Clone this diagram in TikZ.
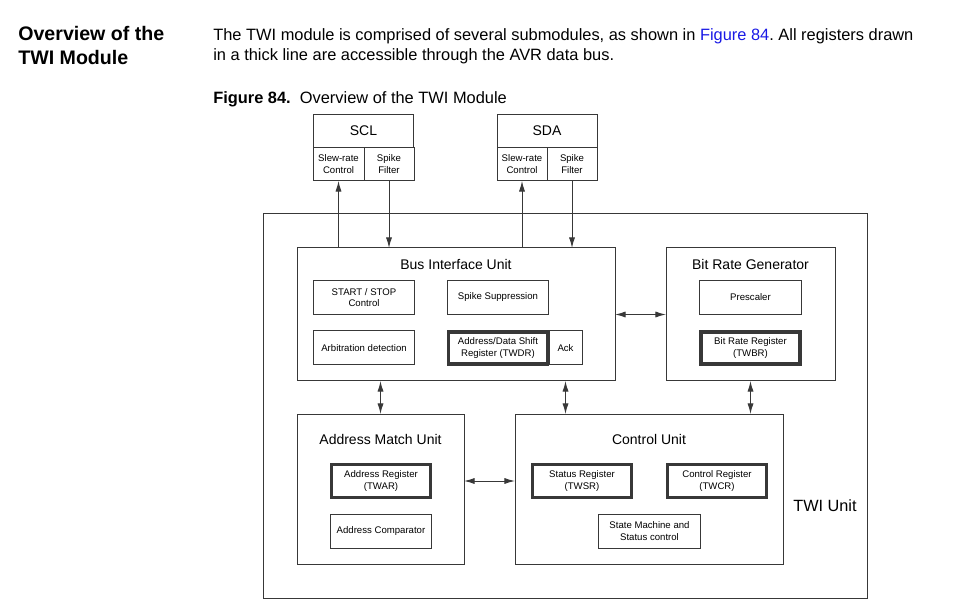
\documentclass[tikz,border=0pt]{standalone}
\usepackage{fontspec}
\setmainfont{Liberation Sans}
\usepackage{xcolor}
\definecolor{linkblue}{rgb}{0.1,0.1,0.9}
\definecolor{line}{gray}{0.22}
\usetikzlibrary{positioning}
\usetikzlibrary{arrows.meta}
\usetikzlibrary{calc}
\frenchspacing

\begin{document}
\begin{tikzpicture}[x=0.75pt,y=-0.75pt,>={Latex[length=8pt,width=4.6pt]},
	every node/.style={inner sep=1,outer sep=0},
	box/.style={draw=line,line width=0.75pt,minimum width=76pt,minimum height=25.5pt,align=center,font=\fontsize{7.2}{8.6}\selectfont},
	reg/.style={box,line width=2.6pt,minimum width=74pt,minimum height=24pt},
	unit/.style={draw=line,line width=0.75pt},
	title/.style={font=\fontsize{10.5}{12}\selectfont},
	txt/.style={anchor=base west,font=\fontsize{12.3}{14}\selectfont}]
	\useasboundingbox (0,0) rectangle (967,616);
	% text above the figure
	\node[txt,font=\fontsize{14.7}{17}\bfseries] (h1) at (17,41) {Overview of the};
	\node[txt,font=\fontsize{14.7}{17}\bfseries] (h2) at (17,65) {TWI Module};
	\node[txt] (p1) at (212,41) {The TWI module is comprised of several submodules, as shown in \textcolor{linkblue}{Figure 84}. All registers drawn};
	\node[txt] (p2) at (212,61) {in a thick line are accessible through the AVR data bus.};
	\node[txt] (cap) at (212,104) {\textbf{Figure 84.}\ \ Overview of the TWI Module};
	% pads
	\node[box,minimum width=75pt,minimum height=25pt,font=\fontsize{10.5}{12}\selectfont] (scl) at (363.5,131) {SCL};
	\node[box,minimum width=38.25pt,minimum height=25pt] (sclsr) at (338.5,164.25) {Slew-rate\\Control};
	\node[box,minimum width=37.5pt,minimum height=25pt] (sclsf) at (389,164.25) {Spike\\Filter};
	\node[box,minimum width=75pt,minimum height=25pt,font=\fontsize{10.5}{12}\selectfont] (sda) at (547,131) {SDA};
	\node[box,minimum width=37.5pt,minimum height=25pt] (sdasr) at (522,164.25) {Slew-rate\\Control};
	\node[box,minimum width=37.5pt,minimum height=25pt] (sdasf) at (572,164.25) {Spike\\Filter};
	% units
	\node[unit,minimum width=453pt,minimum height=288pt] (twi) at (565,406) {};
	\node[unit,minimum width=238.5pt,minimum height=99.75pt] (biu) at (456,314.5) {};
	\node[unit,minimum width=126.75pt,minimum height=99.75pt] (brg) at (750.5,314.5) {};
	\node[unit,minimum width=125.25pt,minimum height=112.5pt] (amu) at (380.5,489) {};
	\node[unit,minimum width=201pt,minimum height=112.5pt] (cu) at (649,489) {};
	\node[title] (biut) at ([yshift=-12pt]biu.north) {Bus Interface Unit};
	\node[title] (brgt) at ([yshift=-12pt]brg.north) {Bit Rate Generator};
	\node[title] (amut) at ([yshift=-18.75pt]amu.north) {Address Match Unit};
	\node[title] (cut) at ([yshift=-18.75pt]cu.north) {Control Unit};
	\node[font=\fontsize{12.2}{14}\selectfont] (twit) at (825,506) {TWI Unit};
	% blocks
	\node[box] (ss) at (364,297.5) {START / STOP\\Control};
	\node[box] (sup) at (498,297.5) {Spike Suppression};
	\node[box] (arb) at (364,348) {Arbitration detection};
	\node[reg] (twdr) at (498,348) {Address/Data Shift\\Register (TWDR)};
	\node[box,minimum width=24.75pt] (ack) at (565.5,348) {Ack};
	\node[box] (pre) at (750.5,297.5) {Prescaler};
	\node[reg] (twbr) at (750.5,348) {Bit Rate Register\\(TWBR)};
	\node[reg,minimum height=25pt] (twar) at (381,481) {Address Register\\(TWAR)};
	\node[box] (cmp) at (381,531) {Address Comparator};
	\node[reg,minimum height=25pt] (twsr) at (582,481) {Status Register\\(TWSR)};
	\node[reg,minimum height=25pt] (twcr) at (717,481) {Control Register\\(TWCR)};
	\node[box] (fsm) at (649.5,531) {State Machine and\\Status control};
	% connections
	\draw[draw=line,line width=0.75pt,->] (sclsr |- biu.north) -- (sclsr.south);
	\draw[draw=line,line width=0.75pt,->] (sclsf.south) -- (sclsf |- biu.north);
	\draw[draw=line,line width=0.75pt,->] (sdasr |- biu.north) -- (sdasr.south);
	\draw[draw=line,line width=0.75pt,->] (sdasf.south) -- (sdasf |- biu.north);
	\draw[draw=line,line width=0.75pt,<->] (biu.east) -- (brg.west);
	\draw[draw=line,line width=0.75pt,<->] (amu.north |- biu.south) -- (amu.north);
	\draw[draw=line,line width=0.75pt,<->] (ack |- biu.south) -- (ack |- cu.north);
	\draw[draw=line,line width=0.75pt,<->] (brg.south) -- (brg |- cu.north);
	\draw[draw=line,line width=0.75pt,<->] (amu.east |- twar) -- (cu.west |- twar);
\end{tikzpicture}
\end{document}
